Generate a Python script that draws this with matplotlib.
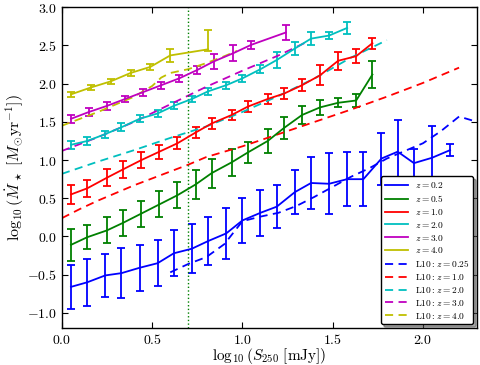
import numpy as np
import matplotlib
matplotlib.use('Agg')
import matplotlib.pyplot as plt
from matplotlib.ticker import FuncFormatter, MultipleLocator

plt.rcParams['mathtext.fontset'] = 'cm'
plt.rcParams['font.family'] = 'serif'
plt.rcParams['font.serif'] = ['DejaVu Serif']

# measured bins (log10 S250) and log10 SFR per redshift
x_z02 = [0.05, 0.14, 0.24, 0.33, 0.43, 0.53, 0.62, 0.72, 0.81, 0.91, 1.00, 1.10,
         1.19, 1.29, 1.38, 1.48, 1.58, 1.67, 1.77, 1.86, 1.95, 2.05, 2.15]
y_z02 = [-0.66, -0.60, -0.51, -0.48, -0.41, -0.35, -0.22, -0.16, -0.06, 0.04, 0.21, 0.31,
         0.39, 0.58, 0.70, 0.69, 0.75, 0.75, 1.02, 1.11, 0.96, 1.03, 1.13]
e_z02 = [0.29, 0.31, 0.28, 0.33, 0.30, 0.30, 0.30, 0.32, 0.32, 0.33, 0.30, 0.30,
         0.28, 0.29, 0.34, 0.40, 0.35, 0.35, 0.34, 0.41, 0.18, 0.42, 0.08]

x_z05 = [0.05, 0.14, 0.25, 0.34, 0.44, 0.54, 0.64, 0.74, 0.83, 0.94, 1.03, 1.14,
         1.23, 1.33, 1.43, 1.53, 1.63, 1.72]
y_z05 = [-0.11, -0.01, 0.08, 0.18, 0.30, 0.42, 0.54, 0.68, 0.83, 0.97, 1.10, 1.25,
         1.42, 1.59, 1.69, 1.75, 1.78, 2.12]
e_z05 = [0.21, 0.16, 0.17, 0.17, 0.17, 0.17, 0.17, 0.19, 0.19, 0.18, 0.14, 0.16,
         0.14, 0.12, 0.10, 0.06, 0.08, 0.18]

x_z10 = x_z05
y_z10 = [0.55, 0.63, 0.77, 0.88, 1.00, 1.11, 1.22, 1.36, 1.48, 1.59, 1.70, 1.80,
         1.87, 1.98, 2.11, 2.30, 2.36, 2.53]
e_z10 = [0.12, 0.11, 0.11, 0.11, 0.10, 0.09, 0.08, 0.07, 0.07, 0.07, 0.07, 0.07,
         0.07, 0.08, 0.13, 0.12, 0.09, 0.07]

x_z20 = x_z02[:17]
y_z20 = [1.20, 1.25, 1.34, 1.43, 1.54, 1.61, 1.71, 1.80, 1.90, 1.98, 2.07, 2.19,
         2.31, 2.46, 2.59, 2.63, 2.73]
e_z20 = [0.05, 0.05, 0.045, 0.05, 0.045, 0.045, 0.045, 0.045, 0.045, 0.045, 0.045,
         0.055, 0.10, 0.08, 0.09, 0.05, 0.076]

x_z30 = [0.05, 0.15, 0.25, 0.35, 0.45, 0.55, 0.65, 0.75, 0.84, 0.95, 1.05, 1.24]
y_z30 = [1.54, 1.63, 1.71, 1.80, 1.89, 1.98, 2.07, 2.18, 2.29, 2.40, 2.51, 2.67]
e_z30 = [0.055, 0.05, 0.05, 0.045, 0.045, 0.045, 0.045, 0.05, 0.10, 0.10, 0.05, 0.10]

x_z40 = [0.05, 0.16, 0.27, 0.38, 0.49, 0.60, 0.81]
y_z40 = [1.86, 1.95, 2.03, 2.14, 2.22, 2.37, 2.45]
elo_z40 = [0.035, 0.035, 0.035, 0.035, 0.04, 0.08, 0.02]
ehi_z40 = [0.035, 0.035, 0.035, 0.035, 0.04, 0.08, 0.25]

# L10 relations
lx_025 = [0.6, 0.7, 0.8, 0.9, 1.0, 1.1, 1.2, 1.3, 1.4, 1.5, 1.6, 1.7, 1.8, 1.9,
          2.0, 2.1, 2.2, 2.3]
ly_025 = [-0.47, -0.36, -0.27, -0.10, 0.20, 0.26, 0.31, 0.40, 0.52, 0.65, 0.78,
          0.89, 1.02, 1.12, 1.22, 1.38, 1.57, 1.50]
lx_10 = [0.0, 0.1, 0.2, 0.3, 0.4, 0.5, 0.6, 0.7, 0.8, 0.9, 1.0, 1.2, 1.4, 1.6,
         1.8, 2.0, 2.2]
ly_10 = [0.24, 0.36, 0.47, 0.57, 0.67, 0.76, 0.85, 0.94, 1.04, 1.11, 1.18, 1.34,
         1.50, 1.66, 1.83, 2.01, 2.21]
lx_20 = [0.0, 0.2, 0.4, 0.6, 0.8, 1.0, 1.2, 1.4, 1.6, 1.8]
ly_20 = [0.82, 0.98, 1.13, 1.29, 1.44, 1.63, 1.84, 2.07, 2.34, 2.57]
lx_30 = [0.0, 0.2, 0.4, 0.6, 0.8, 1.0, 1.2, 1.36]
ly_30 = [1.12, 1.30, 1.50, 1.73, 1.96, 2.17, 2.37, 2.55]
lx_40 = [0.0, 0.2, 0.4, 0.5, 0.55, 0.6, 0.7, 0.8, 0.9, 0.97]
ly_40 = [1.45, 1.63, 1.83, 1.97, 2.08, 2.14, 2.19, 2.27, 2.36, 2.43]

labels = ['$z=0.2$', '$z=0.5$', '$z=1.0$', '$z=2.0$', '$z=3.0$', '$z=4.0$',
          r'$\mathrm{L10}:z=0.25$', r'$\mathrm{L10}:z=1.0$', r'$\mathrm{L10}:z=2.0$',
          r'$\mathrm{L10}:z=3.0$', r'$\mathrm{L10}:z=4.0$']

fig = plt.figure(figsize=(4.8, 3.65), dpi=100)
ax = fig.add_axes([0.129, 0.101, 0.865, 0.879])

ekw = dict(capsize=3, lw=1.3, elinewidth=1.3, capthick=1.3)
handles = []
handles.append(ax.errorbar(x_z02, y_z02, yerr=e_z02, color='b', **ekw)[0])
handles.append(ax.errorbar(x_z05, y_z05, yerr=e_z05, color='g', **ekw)[0])
handles.append(ax.errorbar(x_z10, y_z10, yerr=e_z10, color='r', **ekw)[0])
handles.append(ax.errorbar(x_z20, y_z20, yerr=e_z20, color='c', **ekw)[0])
handles.append(ax.errorbar(x_z30, y_z30, yerr=e_z30, color='m', **ekw)[0])
handles.append(ax.errorbar(x_z40, y_z40, yerr=[elo_z40, ehi_z40], color='y', **ekw)[0])

dkw = dict(lw=1.3, dashes=(4.5, 3))
handles += ax.plot(lx_025, ly_025, 'b--', **dkw)
handles += ax.plot(lx_10, ly_10, 'r--', **dkw)
handles += ax.plot(lx_20, ly_20, 'c--', **dkw)
handles += ax.plot(lx_30, ly_30, 'm--', **dkw)
handles += ax.plot(lx_40, ly_40, 'y--', **dkw)

ax.axvline(0.7, color='g', ls=':', lw=1.0)

ax.set_xlim(0, 2.3)
ax.set_ylim(-1.2, 3.0)
ax.xaxis.set_major_locator(MultipleLocator(0.5))
ax.yaxis.set_major_locator(MultipleLocator(0.5))
fmt = FuncFormatter(lambda v, p: '$%.1f$' % v)
ax.xaxis.set_major_formatter(fmt)
ax.yaxis.set_major_formatter(fmt)
ax.tick_params(direction='in', top=True, right=True, labelsize=10, length=4)
for s in ax.spines.values():
    s.set_linewidth(1.0)

ax.set_xlabel(r'$\log_{10}(S_{250}\ [\mathrm{mJy}])$', fontsize=11, labelpad=-1)
ax.set_ylabel(r'$\log_{10}(\dot{M}_\star\ [M_{\odot}\mathrm{yr}^{-1}])$', fontsize=11.5,
              labelpad=1)

leg = ax.legend(handles, labels, loc='lower right', fontsize=6.8, fancybox=True,
                shadow=True, handlelength=2.4, labelspacing=0.3, borderaxespad=0.4,
                framealpha=1)
leg.get_frame().set_edgecolor('k')

fig.savefig('out.png', dpi=100)
